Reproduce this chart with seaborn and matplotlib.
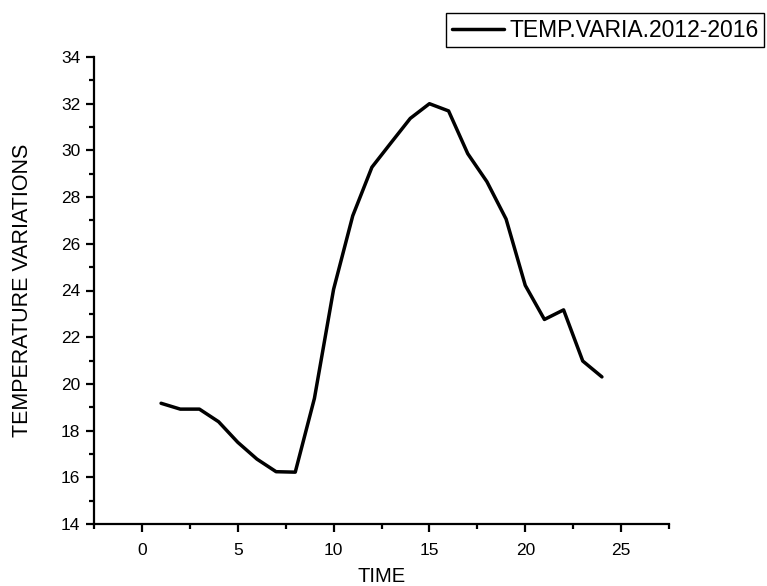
import matplotlib
matplotlib.use("Agg")
import matplotlib.pyplot as plt
from matplotlib.ticker import MultipleLocator
import seaborn as sns
import pandas as pd

time = [1, 2, 3, 4, 5, 6, 7, 8, 9, 10, 11, 12, 13, 14, 15, 16, 17, 18, 19, 20, 21, 22, 23, 24]
temp = [19.17, 18.92, 18.92, 18.38, 17.5, 16.78, 16.24, 16.22, 19.38, 24.05, 27.2, 29.28,
        30.33, 31.37, 32.0, 31.69, 29.86, 28.66, 27.06, 24.22, 22.76, 23.17, 20.98, 20.3]
series_name = "TEMP.VARIA.2012-2016"
x_label = "TIME"
y_label = "TEMPERATURE VARIATIONS"

df = pd.DataFrame({"TIME": time, "TEMP": temp, "series": series_name})

sns.set_style("ticks")
plt.rcParams["font.family"] = ["Liberation Sans", "DejaVu Sans"]
plt.rcParams["text.color"] = "black"
plt.rcParams["axes.labelcolor"] = "black"
plt.rcParams["xtick.color"] = "black"
plt.rcParams["ytick.color"] = "black"

fig = plt.figure(figsize=(7.67, 5.86), dpi=100)
ax = fig.add_axes([94 / 767, 1 - 524 / 586, (669 - 94) / 767, (524 - 57) / 586])

sns.lineplot(data=df, x="TIME", y="TEMP", hue="series", palette=["black"],
             linewidth=2.5, ax=ax, legend=True)

ax.set_xlim(-2.5, 27.5)
ax.set_ylim(14, 34)
ax.xaxis.set_major_locator(MultipleLocator(5))
ax.xaxis.set_minor_locator(MultipleLocator(2.5))
ax.yaxis.set_major_locator(MultipleLocator(2))
ax.yaxis.set_minor_locator(MultipleLocator(1))

for s in ["top", "right"]:
    ax.spines[s].set_visible(False)
for s in ["left", "bottom"]:
    ax.spines[s].set_linewidth(1.6)
    ax.spines[s].set_color("black")

ax.tick_params(which="major", direction="out", length=6, width=1.6, labelsize=12.5,
               colors="black", labelcolor="black", pad=4)
ax.tick_params(which="minor", direction="out", length=3.5, width=1.6, colors="black")
ax.tick_params(axis="x", which="major", pad=8)

ax.set_xlabel(x_label, fontsize=14.5, labelpad=6, color="black")
ax.set_ylabel(y_label, fontsize=15.5, labelpad=20, color="black")

handles, labels = ax.get_legend_handles_labels()
leg = ax.legend(handles, labels, loc="upper right", bbox_to_anchor=(764 / 767, 1 - 13 / 586),
                bbox_transform=fig.transFigure, borderaxespad=0, fancybox=False,
                edgecolor="black", framealpha=1, fontsize=16.5, handlelength=2.3,
                handletextpad=0.2, borderpad=0.25, title=None, labelcolor="black")
leg.get_frame().set_linewidth(1.0)

fig.savefig("out.png", dpi=100)
